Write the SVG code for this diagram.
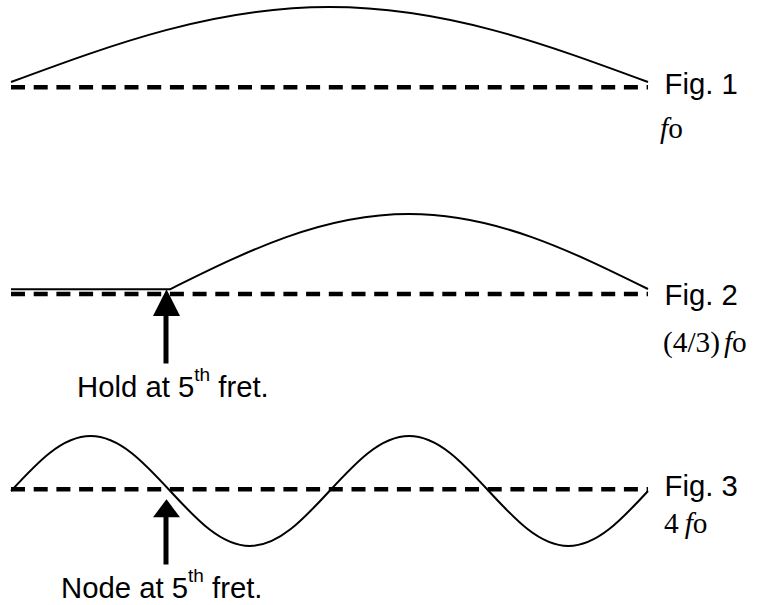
<svg xmlns="http://www.w3.org/2000/svg" width="761" height="605" viewBox="0 0 761 605">
<style>
.bg{fill:#fff}
.axis{stroke:#000;stroke-width:4.5;stroke-dasharray:14 8.7;fill:none}
.wave{stroke:#000;stroke-width:2;fill:none}
.shaft{stroke:#000;stroke-width:5;fill:none}
.head{fill:#000}
.sans{font-family:"Liberation Sans",Arial,sans-serif;font-size:29.3px;fill:#000}
.sup{font-size:19px}
.serif{font-family:"Liberation Serif","Times New Roman",serif;font-size:29.3px;fill:#000}
.it{font-style:italic}
</style>
<rect class="bg" x="0" y="0" width="761" height="605"/>
<g id="fig1">
<path class="axis" d="M11 87.3H648"/>
<path class="wave" d="M11 82C114.88 43.58 214.24 7 329.5 7C444.76 7 544.12 43.58 648 82"/>
<text class="sans" x="664.5" y="94.3">Fig. 1</text>
<text class="serif" x="660" y="138"><tspan class="it">f</tspan>o</text>
</g>
<g id="fig2">
<path class="axis" d="M11 294H648"/>
<path class="wave" d="M11 289.3H170C247.95 250.58 322.5 214 409 214C495.5 214 570.05 250.58 648 289"/>
<text class="sans" x="664.5" y="305">Fig. 2</text>
<text class="serif" x="663" y="352">(4/3)<tspan class="it" dx="4">f</tspan>o</text>
</g>
<g id="fig3">
<path class="axis" d="M11 489.3H648"/>
<path class="wave" d="M11 491C36.97 462.82 61.81 436 90.625 436C119.44 436 144.28 462.82 170.25 491C196.22 519.18 221.06 546 249.875 546C278.69 546 303.53 519.18 329.5 491C355.47 462.82 380.31 436 409.125 436C437.94 436 462.78 462.82 488.75 491C514.72 519.18 539.56 546 568.375 546C597.19 546 622.03 519.18 648 491"/>
<text class="sans" x="664.5" y="496">Fig. 3</text>
<text class="serif" x="664" y="533">4<tspan class="it" dx="6">f</tspan>o</text>
</g>
<g id="arrows">
<path class="shaft" d="M166 314V363.5"/>
<path class="head" d="M166.5 289.3L180 316H153Z"/>
<path class="shaft" d="M166 515V564.5"/>
<path class="head" d="M166.5 499.3L180 517.3H153Z"/>
</g>
<g id="label-hold">
<text class="sans" x="77" y="396.7">Hold at 5<tspan class="sup" dy="-16">th</tspan><tspan dy="16"> fret.</tspan></text>
</g>
<g id="label-node">
<text class="sans" x="61" y="598">Node at 5<tspan class="sup" dy="-16">th</tspan><tspan dy="16"> fret.</tspan></text>
</g>
</svg>
